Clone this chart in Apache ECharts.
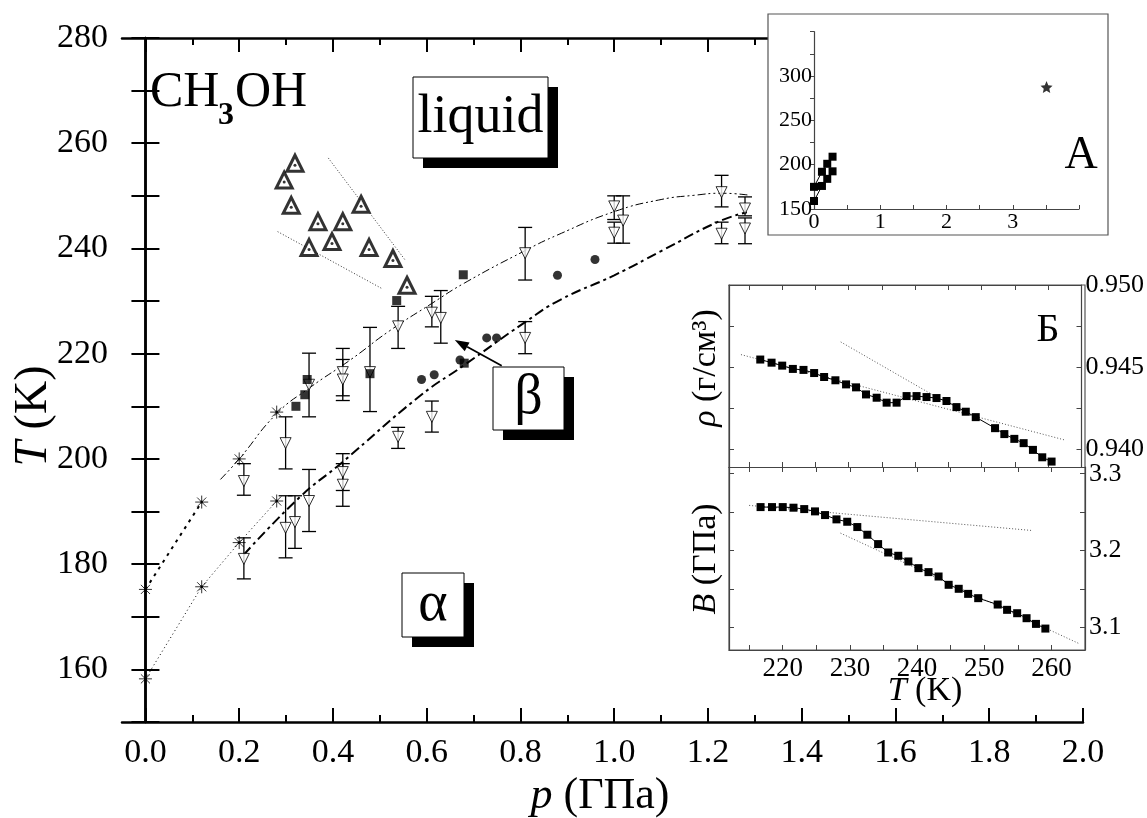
<!DOCTYPE html>
<html><head><meta charset="utf-8">
<script src="https://cdn.jsdelivr.net/npm/echarts@6/dist/echarts.min.js"></script>
<style>html,body{margin:0;padding:0;background:#fff}#c{width:1147px;height:818px}</style>
</head><body><div id="c"></div>
<script>
// ---------- main plot data (p in GPa, T in K) ----------
const xMajorTicks = [0.0,0.2,0.4,0.6,0.8,1.0,1.2,1.4,1.6,1.8,2.0];
const xMinorTicks = [0.1,0.3,0.5,0.7,0.9,1.1,1.3,1.5,1.7,1.9];
const yTicks = [150,160,170,180,190,200,210,220,230,240,250,260,270,280];
const yLabels = [160,180,200,220,240,260,280];

// open up-triangles (liquid boundary)
const upTriP = [0.319,0.296,0.311,0.368,0.421,0.460,0.349,0.398,0.477,0.528,0.558];
const upTriT = [256.2,253.0,248.2,245.1,245.1,248.4,240.2,241.3,240.2,238.1,233.0];
// open down-triangles with error bars
const dnTriP  = [0.21,0.21,0.299,0.299,0.319,0.349,0.349,0.421,0.421,0.421,0.421,0.479,0.539,0.539,0.611,0.630,0.611,0.810,0.810,1.000,1.000,1.019,1.229,1.229,1.279,1.279];
const dnTriT  = [195.8,181.0,203.0,186.9,188.0,192.0,214.1,216.5,215.1,197.5,195.1,216.5,225.2,204.2,227.8,226.8,208.0,239.1,223.0,248.0,243.0,245.3,250.7,242.8,247.6,243.8];
const dnTriLo = [193.1,177.2,198.1,181.2,183.0,186.2,208.0,212.0,211.1,194.0,191.0,209.0,221.0,202.0,225.1,222.0,205.1,234.0,220.0,245.5,241.0,241.0,247.9,240.9,246.2,240.9];
const dnTriHi = [199.1,185.0,208.0,193.0,193.0,198.0,220.1,221.0,218.9,201.0,199.1,225.0,229.0,206.0,230.9,232.0,211.0,244.0,226.1,250.0,245.0,250.0,253.9,245.0,249.8,245.8];
// filled squares
const sqP = [0.321,0.340,0.345,0.479,0.536,0.678,0.680];
const sqT = [210.0,212.2,215.1,216.2,230.1,235.0,218.2];
// filled circles
const ciP = [0.589,0.616,0.671,0.728,0.749,0.879,0.959];
const ciT = [215.1,216.0,218.8,223.0,223.0,234.9,237.9];
// asterisks
const astP = [0,0.12,0.20,0.28];
const astUpperT = [175.2,191.8,200.0,208.9];
const astLowerT = [158.2,175.7,184.1,192.0];
// boundary curves
const upCurveP = [0.16,0.20,0.28,0.35,0.44,0.52,0.61,0.68,0.81,0.88,1.00,1.10,1.17,1.23,1.29];
const upCurveT = [196.1,200.0,208.6,213.5,219.0,224.3,229.5,233.4,239.6,242.6,247.0,249.3,250.1,250.5,250.1];
const loCurveP = [0.21,0.33,0.415,0.586,0.678,0.81,0.884,1.00,1.10,1.22,1.283];
const loCurveT = [181.8,192.8,199.0,212.0,217.7,226.0,230.2,234.9,239.5,245.0,246.9];
const liq1P = [0.390,0.554], liq1T = [257.2,237.8];
const liq2P = [0.282,0.504], liq2T = [243.2,232.4];
const arrowP = [0.76,0.66], arrowT = [217.7,222.6];

// ---------- inset A ----------
const insAP = [0,0.12,0.20,0.28];
const insAUpper = [175,192,201,209];
const insALower = [159,176,184,192.5];
const insAStarP = [3.51], insAStarT = [287.6];

// ---------- inset B (Б) ----------
const bT = [216.7,218.4,220.0,221.6,223.2,224.8,226.3,228.0,229.6,231.1,232.6,234.2,235.7,237.2,238.7,240.2,241.7,243.2,244.7,246.2,247.6,249.1,252.0,253.4,254.9,256.3,257.7,259.1,260.5];
const rho = [0.94547,0.94528,0.94510,0.94490,0.94484,0.94465,0.94441,0.94421,0.94396,0.94378,0.94335,0.94315,0.94285,0.94285,0.94325,0.94325,0.94319,0.94313,0.94295,0.94258,0.94230,0.94197,0.94130,0.94094,0.94065,0.94039,0.93998,0.93953,0.93927];
const bulk = [3.2565,3.2565,3.2565,3.2557,3.2539,3.2509,3.2461,3.2405,3.2374,3.2305,3.2205,3.2083,3.1974,3.1931,3.1857,3.1770,3.1718,3.1661,3.1553,3.1501,3.1435,3.1379,3.1296,3.1227,3.1183,3.1118,3.1044,3.0983];
const rhoFit1T = [213.8,262.4], rhoFit1 = [0.94577,0.94059];
const rhoFit2T = [228.8,243.2], rhoFit2 = [0.94654,0.94319];
const bFit1T = [215.0,257.0], bFit1 = [3.2587,3.2261];
const bFit2T = [228.6,264.2], bFit2 = [3.2226,3.0784];
const bXTicks = [215,220,225,230,235,240,245,250,255,260,265];
const bXLabels = [220,230,240,250,260];
const rhoTicks = [0.940,0.9425,0.945,0.9475,0.950];
const rhoLabels = [0.940,0.945,0.950];
const bulkTicks = [3.10,3.15,3.20,3.25,3.30];
const bulkLabels = [3.1,3.2,3.3];

const F = "'Liberation Serif','Times New Roman',serif";
const zip = (a,b) => a.map((v,i)=>[v,b[i]]);
const chart = echarts.init(document.getElementById('c'));

const starPath = 'path://M10,0L12.9,6.9L20,7.6L14.6,12.4L16.2,19.5L10,15.8L3.8,19.5L5.4,12.4L0,7.6L7.1,6.9Z';
const astPath = 'path://M10,0L10,20M0,10L20,10M3,3L17,17M3,17L17,3';

function txt(x,y,text,size,extra){
  return Object.assign({type:'text', x:x, y:y, z:40,
    style:Object.assign({text:text, font:size+'px '+F, fill:'#000', align:'center', verticalAlign:'middle'}, extra||{})});
}
function boxWithShadow(x,y,w,h,label,size,z){
  return [
    {type:'rect', z:z, shape:{x:x+10,y:y+10,width:w,height:h}, style:{fill:'#000'}},
    {type:'rect', z:z+1, shape:{x:x,y:y,width:w,height:h}, style:{fill:'#fff',stroke:'#000',lineWidth:1}},
    {type:'text', z:z+2, x:x+w/2, y:y+h/2, style:{text:label, font:size+'px '+F, fill:'#000', align:'center', verticalAlign:'middle'}}
  ];
}

const axisCol = '#000';
const insCol = '#444';

const option = {
  animation:false,
  backgroundColor:'#fff',
  grid:[
    {left:122, top:38, width:961, height:684},
    {left:122, top:38, width:961, height:684},
    {left:814, top:31.7, width:265, height:177.3, z:20},
    {left:729, top:285, width:356, height:182, z:20},
    {left:729, top:467, width:356, height:183, z:20}
  ],
  xAxis:[
    {gridIndex:0, type:'value', min:-0.05, max:2.0, position:'bottom',
     axisLine:{lineStyle:{color:axisCol,width:2.5}},
     axisTick:{inside:true,length:14,customValues:xMajorTicks,lineStyle:{color:axisCol,width:2}},
     axisLabel:{customValues:xMajorTicks, formatter:v=>v.toFixed(1), fontSize:34, fontFamily:F, color:'#000', margin:14},
     splitLine:{show:false}},
    {gridIndex:0, type:'value', min:-0.05, max:2.0, position:'top',
     axisLine:{lineStyle:{color:axisCol,width:2.5}},
     axisTick:{inside:true,length:14,customValues:xMajorTicks,lineStyle:{color:axisCol,width:2}},
     axisLabel:{show:false}, splitLine:{show:false}},
    {gridIndex:1, type:'value', min:-0.05, max:2.0, position:'bottom',
     axisLine:{show:false}, axisTick:{inside:true,length:7,customValues:xMinorTicks,lineStyle:{color:axisCol,width:2}},
     axisLabel:{show:false}, splitLine:{show:false}},
    {gridIndex:1, type:'value', min:-0.05, max:2.0, position:'top',
     axisLine:{show:false}, axisTick:{inside:true,length:7,customValues:xMinorTicks,lineStyle:{color:axisCol,width:2}},
     axisLabel:{show:false}, splitLine:{show:false}},
    {gridIndex:2, type:'value', min:0, max:4, interval:0.5, position:'bottom', z:22,
     axisLine:{lineStyle:{color:insCol,width:1.2}},
     axisTick:{inside:true,length:4,lineStyle:{color:insCol}},
     axisLabel:{formatter:v=>(Number.isInteger(v)&&v<4)?String(v):'', fontSize:22, fontFamily:F, color:'#000', margin:2},
     splitLine:{show:false}},
    {gridIndex:3, type:'value', min:212, max:265, position:'bottom', z:22,
     axisLine:{lineStyle:{color:insCol,width:1.2}},
     axisTick:{inside:true,length:5,customValues:bXTicks,lineStyle:{color:insCol}},
     axisLabel:{show:false}, splitLine:{show:false}},
    {gridIndex:3, type:'value', min:212, max:265, position:'top', z:22,
     axisLine:{lineStyle:{color:insCol,width:1.2}},
     axisTick:{inside:true,length:5,customValues:bXTicks,lineStyle:{color:insCol}},
     axisLabel:{show:false}, splitLine:{show:false}},
    {gridIndex:4, type:'value', min:212, max:265, position:'bottom', z:22,
     axisLine:{lineStyle:{color:insCol,width:1.2}},
     axisTick:{inside:true,length:5,customValues:bXTicks,lineStyle:{color:insCol}},
     axisLabel:{customValues:bXLabels, fontSize:27, fontFamily:F, color:'#000', margin:5},
     splitLine:{show:false}},
    {gridIndex:4, type:'value', min:212, max:265, position:'top', z:22,
     axisLine:{lineStyle:{color:insCol,width:1.2}},
     axisTick:{inside:true,length:5,customValues:bXTicks,lineStyle:{color:insCol}},
     axisLabel:{show:false}, splitLine:{show:false}}
  ],
  yAxis:[
    {gridIndex:0, type:'value', min:150, max:280, position:'left',
     axisLine:{lineStyle:{color:axisCol,width:2.5}},
     axisTick:{inside:true,length:14,customValues:yTicks,lineStyle:{color:axisCol,width:2}},
     axisLabel:{customValues:yLabels, fontSize:34, fontFamily:F, color:'#000', margin:14},
     splitLine:{show:false}},
    {gridIndex:0, type:'value', min:150, max:280, position:'right',
     axisLine:{lineStyle:{color:axisCol,width:2.5}},
     axisTick:{inside:true,length:14,customValues:yTicks,lineStyle:{color:axisCol,width:2}},
     axisLabel:{show:false}, splitLine:{show:false}},
    {gridIndex:1, type:'value', min:150, max:280, show:false},
    {gridIndex:2, type:'value', min:150, max:350, interval:25, position:'left', z:22,
     axisLine:{lineStyle:{color:insCol,width:1.2}},
     axisTick:{inside:false,length:4,lineStyle:{color:insCol}},
     axisLabel:{formatter:v=>(v%50===0&&v<350)?String(v):'', fontSize:22, fontFamily:F, color:'#000', margin:2},
     splitLine:{show:false}},
    {gridIndex:3, type:'value', min:0.93894, max:0.950, position:'right', z:22,
     axisLine:{lineStyle:{color:insCol,width:1.2}},
     axisTick:{inside:true,length:5,customValues:rhoTicks,lineStyle:{color:insCol}},
     axisLabel:{customValues:rhoLabels, formatter:v=>v.toFixed(3), fontSize:26, fontFamily:F, color:'#000', margin:4},
     splitLine:{show:false}},
    {gridIndex:3, type:'value', min:0.93894, max:0.950, position:'left', z:22,
     axisLine:{lineStyle:{color:insCol,width:1.2}},
     axisTick:{inside:true,length:5,customValues:rhoTicks,lineStyle:{color:insCol}},
     axisLabel:{show:false}, splitLine:{show:false}},
    {gridIndex:4, type:'value', min:3.0704, max:3.3087, position:'right', z:22,
     axisLine:{lineStyle:{color:insCol,width:1.2}},
     axisTick:{inside:true,length:5,customValues:bulkTicks,lineStyle:{color:insCol}},
     axisLabel:{customValues:bulkLabels, formatter:v=>v.toFixed(1), fontSize:26, fontFamily:F, color:'#000', margin:4},
     splitLine:{show:false}},
    {gridIndex:4, type:'value', min:3.0704, max:3.3087, position:'left', z:22,
     axisLine:{lineStyle:{color:insCol,width:1.2}},
     axisTick:{inside:true,length:5,customValues:bulkTicks,lineStyle:{color:insCol}},
     axisLabel:{show:false}, splitLine:{show:false}}
  ],
  series:[
    {type:'line', xAxisIndex:0, yAxisIndex:0, data:zip(upCurveP,upCurveT), smooth:true, showSymbol:false, z:2,
     lineStyle:{color:'#000', width:1, type:[8,3,2,3,2,3]}},
    {type:'line', xAxisIndex:0, yAxisIndex:0, data:zip(loCurveP,loCurveT), smooth:true, showSymbol:false, z:2,
     lineStyle:{color:'#000', width:2, type:[10,4,3,4]}},
    {type:'line', xAxisIndex:0, yAxisIndex:0, data:zip(astP.slice(0,2),astUpperT.slice(0,2)), showSymbol:false, z:2,
     lineStyle:{color:'#000', width:2, type:[3,5]}},
    {type:'line', xAxisIndex:0, yAxisIndex:0, data:zip(astP,astLowerT), showSymbol:false, z:2,
     lineStyle:{color:'#000', width:1, type:[1,3]}},
    {type:'line', xAxisIndex:0, yAxisIndex:0, data:zip(liq1P,liq1T), showSymbol:false, z:2,
     lineStyle:{color:'#333', width:1, type:[1,2]}},
    {type:'line', xAxisIndex:0, yAxisIndex:0, data:zip(liq2P,liq2T), showSymbol:false, z:2,
     lineStyle:{color:'#333', width:1, type:[1,2]}},
    // error bars
    {type:'custom', xAxisIndex:0, yAxisIndex:0, z:3,
     data: dnTriP.map((p,i)=>[p,dnTriLo[i],dnTriHi[i]]),
     encode:{x:0, y:[1,2]},
     renderItem:(params,api)=>{
       const x=api.value(0), a=api.coord([x,api.value(1)]), b=api.coord([x,api.value(2)]), w=7;
       const st={stroke:'#000', lineWidth:1.3};
       return {type:'group', children:[
         {type:'line', shape:{x1:a[0],y1:a[1],x2:b[0],y2:b[1]}, style:st},
         {type:'line', shape:{x1:a[0]-w,y1:a[1],x2:a[0]+w,y2:a[1]}, style:st},
         {type:'line', shape:{x1:b[0]-w,y1:b[1],x2:b[0]+w,y2:b[1]}, style:st}
       ]};
     }},
    // arrow pointing to beta region
    {type:'custom', xAxisIndex:0, yAxisIndex:0, z:7,
     data:[[arrowP[0],arrowT[0],arrowP[1],arrowT[1]]],
     encode:{x:[0,2], y:[1,3]},
     renderItem:(params,api)=>{
       const a=api.coord([api.value(0),api.value(1)]), b=api.coord([api.value(2),api.value(3)]);
       const dx=b[0]-a[0], dy=b[1]-a[1], L=Math.hypot(dx,dy), ux=dx/L, uy=dy/L;
       const hl=14, hw=5;
       const bx=b[0]-ux*hl, by=b[1]-uy*hl;
       return {type:'group', children:[
         {type:'line', shape:{x1:a[0],y1:a[1],x2:bx,y2:by}, style:{stroke:'#000',lineWidth:1.8}},
         {type:'polygon', shape:{points:[[b[0],b[1]],[bx-uy*hw,by+ux*hw],[bx+uy*hw,by-ux*hw]]}, style:{fill:'#000'}}
       ]};
     }},
    {type:'scatter', xAxisIndex:0, yAxisIndex:0, data:zip(dnTriP,dnTriT), z:4,
     symbol:'triangle', symbolRotate:180, symbolSize:11,
     itemStyle:{color:'#fff', borderColor:'#000', borderWidth:1}},
    {type:'scatter', xAxisIndex:0, yAxisIndex:0, data:zip(upTriP,upTriT), z:4,
     symbol:'triangle', symbolSize:16,
     itemStyle:{color:'#fff', borderColor:'#000', borderWidth:3}},
    {type:'scatter', xAxisIndex:0, yAxisIndex:0, data:zip(upTriP,upTriT), z:5,
     symbol:'circle', symbolSize:3, symbolOffset:[0,2], itemStyle:{color:'#000'}},
    {type:'scatter', xAxisIndex:0, yAxisIndex:0, data:zip(sqP,sqT), z:5,
     symbol:'rect', symbolSize:9, itemStyle:{color:'#000'}},
    {type:'scatter', xAxisIndex:0, yAxisIndex:0, data:zip(ciP,ciT), z:5,
     symbol:'circle', symbolSize:9, itemStyle:{color:'#000'}},
    {type:'scatter', xAxisIndex:0, yAxisIndex:0, data:zip(astP,astUpperT).concat(zip(astP,astLowerT)), z:5,
     symbol:astPath, symbolSize:13, itemStyle:{color:'none', borderColor:'#000', borderWidth:1}},
    {type:'scatter', xAxisIndex:0, yAxisIndex:0, data:zip(astP,astUpperT).concat(zip(astP,astLowerT)), z:5,
     symbol:'circle', symbolSize:3, itemStyle:{color:'#000'}},

    // inset A
    {type:'line', xAxisIndex:4, yAxisIndex:3, data:zip(insAP,insAUpper), z:30,
     symbol:'rect', symbolSize:8, itemStyle:{color:'#000'}, lineStyle:{color:'#000',width:1}},
    {type:'line', xAxisIndex:4, yAxisIndex:3, data:zip(insAP,insALower), z:30,
     symbol:'rect', symbolSize:8, itemStyle:{color:'#000'}, lineStyle:{color:'#000',width:1}},
    {type:'scatter', xAxisIndex:4, yAxisIndex:3, data:zip(insAStarP,insAStarT), z:30,
     symbol:starPath, symbolSize:12, itemStyle:{color:'#000'}},

    // inset Б upper
    {type:'line', xAxisIndex:5, yAxisIndex:4, data:zip(rhoFit1T,rhoFit1), showSymbol:false, z:29,
     lineStyle:{color:'#555', width:1, type:[1,2]}},
    {type:'line', xAxisIndex:5, yAxisIndex:4, data:zip(rhoFit2T,rhoFit2), showSymbol:false, z:29,
     lineStyle:{color:'#555', width:1, type:[1,2]}},
    {type:'line', xAxisIndex:5, yAxisIndex:4, data:zip(bT,rho), z:30,
     symbol:'rect', symbolSize:8, itemStyle:{color:'#000'}, lineStyle:{color:'#000',width:1}},
    // inset Б lower
    {type:'line', xAxisIndex:7, yAxisIndex:6, data:zip(bFit1T,bFit1), showSymbol:false, z:29,
     lineStyle:{color:'#555', width:1, type:[1,2]}},
    {type:'line', xAxisIndex:7, yAxisIndex:6, data:zip(bFit2T,bFit2), showSymbol:false, z:29,
     lineStyle:{color:'#555', width:1, type:[1,2]}},
    {type:'line', xAxisIndex:7, yAxisIndex:6, data:zip(bT.slice(0,bulk.length),bulk), z:30,
     symbol:'rect', symbolSize:8, itemStyle:{color:'#000'}, lineStyle:{color:'#000',width:1}}
  ],
  graphic:{elements:[
    {type:'rect', z:10, shape:{x:768,y:14,width:340,height:221}, style:{fill:'#fff',stroke:'#555',lineWidth:1.2}},
    {type:'rect', z:10, shape:{x:729,y:285,width:356,height:365}, style:{fill:'#fff',stroke:'#555',lineWidth:1.2}},
    ...boxWithShadow(413,77,135,81,'liquid',54,6),
    ...boxWithShadow(402,573,62,64,'α',56,6),
    ...boxWithShadow(493,367,71,63,'β',56,6),
    txt(150,93,'CH',50,{align:'left'}),
    txt(218,116,'3',32,{align:'left', font:'bold 32px '+F}),
    txt(235,93,'OH',50,{align:'left'}),
    {type:'text', z:40, x:34, y:416, rotation:Math.PI/2,
     style:{text:'{i|T} (K)', align:'center', verticalAlign:'middle', font:'46px '+F, fill:'#000',
       rich:{i:{fontStyle:'italic', fontSize:46, fontFamily:F}}}},
    {type:'text', z:40, x:600, y:796,
     style:{text:'{i|p} (ГПа)', align:'center', verticalAlign:'middle', font:'44px '+F, fill:'#000',
       rich:{i:{fontStyle:'italic', fontSize:44, fontFamily:F}}}},
    txt(1081,156,'A',46),
    txt(1048,330,'Б',40),
    {type:'text', z:40, x:706, y:368, rotation:Math.PI/2,
     style:{text:'{i|ρ} (г/см³)', align:'center', verticalAlign:'middle', font:'34px '+F, fill:'#000',
       rich:{i:{fontStyle:'italic', fontSize:34, fontFamily:F}}}},
    {type:'text', z:40, x:706, y:559, rotation:Math.PI/2,
     style:{text:'{i|B} (ГПа)', align:'center', verticalAlign:'middle', font:'34px '+F, fill:'#000',
       rich:{i:{fontStyle:'italic', fontSize:34, fontFamily:F}}}},
    {type:'text', z:40, x:925, y:691,
     style:{text:'{i|T} (K)', align:'center', verticalAlign:'middle', font:'34px '+F, fill:'#000',
       rich:{i:{fontStyle:'italic', fontSize:34, fontFamily:F}}}}
  ]}
};
chart.setOption(option);
</script>
</body></html>
